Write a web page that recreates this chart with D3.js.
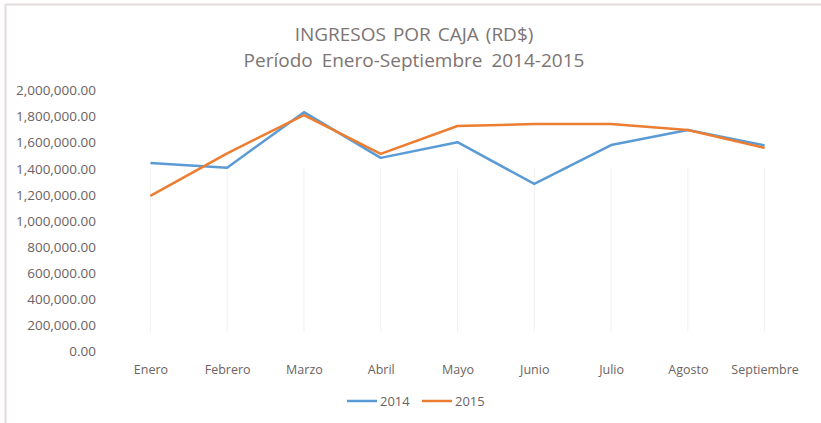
<!DOCTYPE html>
<html>
<head>
<meta charset="utf-8">
<script src="https://cdn.jsdelivr.net/npm/d3@7"></script>
<style>
  body { margin: 0; background: #fff; }
  svg text { font-family: "Open Sans", sans-serif; }
</style>
</head>
<body>
<svg id="chart" width="821" height="423"></svg>
<script>
// data
var meses = ["Enero", "Febrero", "Marzo", "Abril", "Mayo", "Junio", "Julio", "Agosto", "Septiembre"];
var ingresos2014 = [1440000, 1405000, 1830000, 1480000, 1600000, 1280000, 1578000, 1693000, 1575000];
var ingresos2015 = [1188000, 1515000, 1808000, 1510000, 1724000, 1739000, 1739000, 1693000, 1556000];
var yTicks = [0, 200000, 400000, 600000, 800000, 1000000, 1200000, 1400000, 1600000, 1800000, 2000000];

var series = [
  { name: "2014", values: ingresos2014, color: "#5b9bd5" },
  { name: "2015", values: ingresos2015, color: "#ed7d31" }
];

var svg = d3.select("#chart");
var textColor = "#6b6363";

// frame
svg.append("line").attr("x1", 5.5).attr("x2", 5.5).attr("y1", 4).attr("y2", 423)
  .attr("stroke", "#e3dcdc").attr("stroke-width", 2);
svg.append("line").attr("x1", 5).attr("x2", 821).attr("y1", 4.5).attr("y2", 4.5)
  .attr("stroke", "#e3dcdc").attr("stroke-width", 2);

// titles
svg.append("text").attr("x", 414).attr("y", 41).attr("text-anchor", "middle")
  .style("font-size", "19px").style("fill", "#7d7474").style("word-spacing", "2px")
  .text("INGRESOS POR CAJA (RD$)");
svg.append("text").attr("x", 414).attr("y", 67).attr("text-anchor", "middle")
  .style("font-size", "19px").style("fill", "#7d7474").style("word-spacing", "4px")
  .text("Período Enero-Septiembre 2014-2015");

var x = d3.scalePoint().domain(meses).range([112, 803]).padding(0.5);
var y = d3.scaleLinear().domain([0, 2000000]).range([351, 90]);

// faint vertical lines
svg.append("g").selectAll("line").data(meses).join("line")
  .attr("x1", d => x(d)).attr("x2", d => x(d))
  .attr("y1", y(1400000)).attr("y2", y(150000))
  .attr("stroke", "#f0f0f0").attr("stroke-width", 1);

// y axis
var fmt = d3.format(",.2f");
var yAxis = svg.append("g").attr("transform", "translate(96,0)")
  .call(d3.axisLeft(y).tickValues(yTicks).tickFormat(fmt).tickSize(0).tickPadding(0));
yAxis.select(".domain").remove();
yAxis.selectAll("text").style("font-size", "13.5px").style("fill", textColor).attr("dy", "0.35em");

// x axis
var xAxis = svg.append("g").attr("transform", "translate(0,365)")
  .call(d3.axisBottom(x).tickSize(0).tickPadding(0));
xAxis.select(".domain").remove();
xAxis.selectAll("text").style("font-size", "12.5px").style("fill", textColor).attr("dy", "0.75em");

// lines
var line = d3.line().x((d, i) => x(meses[i])).y(d => y(d));
svg.append("g").selectAll("path").data(series).join("path")
  .attr("d", d => line(d.values))
  .attr("fill", "none")
  .attr("stroke", d => d.color)
  .attr("stroke-width", 2.5)
  .attr("stroke-linejoin", "round");

// legend
var legend = svg.append("g").selectAll("g").data(series).join("g")
  .attr("transform", (d, i) => "translate(" + (347 + i * 75) + ",401)");
legend.append("line").attr("x1", 0).attr("x2", 30)
  .attr("stroke", d => d.color).attr("stroke-width", 2.5);
legend.append("text").attr("x", 33).attr("dy", "0.35em")
  .style("font-size", "13px").style("fill", textColor)
  .text(d => d.name);
</script>
</body>
</html>
